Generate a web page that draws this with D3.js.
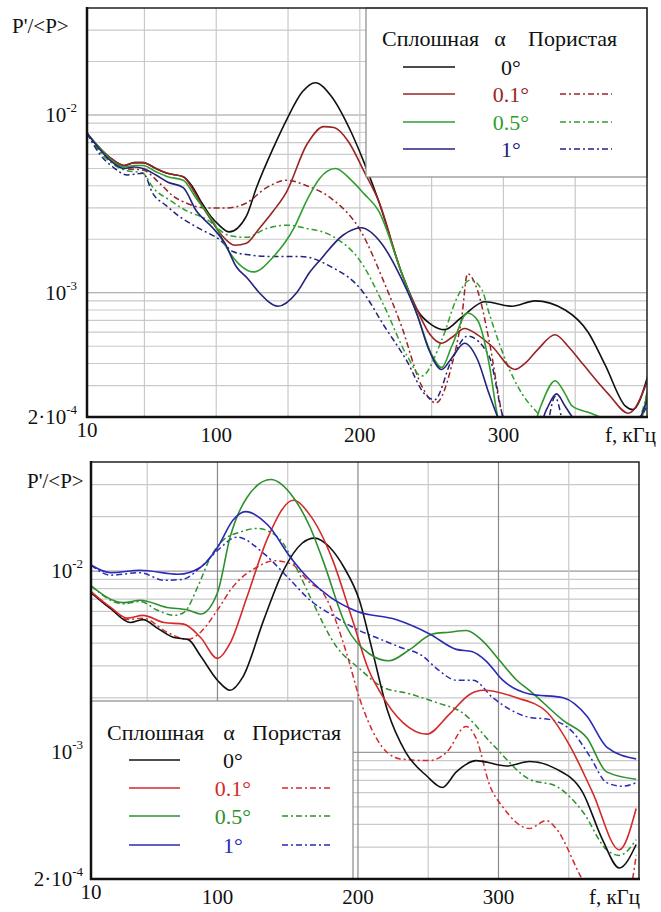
<!DOCTYPE html>
<html><head><meta charset="utf-8">
<script src="https://cdn.jsdelivr.net/npm/d3@7"></script>
<style>
body{margin:0;background:#fff;}
svg, svg text{font-family:"Liberation Serif","DejaVu Serif","Times New Roman",serif;}
</style>
</head><body>
<svg id="chart" width="661" height="912" font-family="Liberation Serif, DejaVu Serif, serif"></svg>
<script>
// ---------- shared axis data ----------
const xDomain = [10, 400];
const yDomain = [2e-4, 0.04];
const xTickValues = [10, 100, 200, 300];
const xGridValues = [50, 100, 150, 200, 250, 300, 350];
const yGridValues = [0.0003,0.0004,0.0005,0.0006,0.0007,0.0008,0.0009,0.001,0.002,0.003,0.004,0.005,0.006,0.007,0.008,0.009,0.01,0.02,0.03];
const yTickLabels = [{v:0.01, pre:"10", exp:"-2"}, {v:0.001, pre:"10", exp:"-3"}, {v:0.0002, pre:"2·10", exp:"-4"}];
const angleLabels = ["0°", "0.1°", "0.5°", "1°"];
const legendHeader = ["Сплошная", "α", "Пористая"];
const yAxisTitle = "P'/<P>";
const xAxisTitle = "f, кГц";

// ---------- top panel series (f, P'/<P>) ----------
const topSolid0 = [[10,0.0079],[19,0.0065],[28,0.0056],[36,0.0052],[43,0.0054],[49,0.0054],[58,0.0050],[66,0.0047],[77,0.0045],[83,0.0040],[89,0.0033],[96,0.0027],[102,0.0024],[109,0.0022],[121,0.0027],[128,0.0039],[140,0.0066],[149,0.0094],[160,0.0135],[169,0.0152],[180,0.0128],[194,0.0080],[203,0.0054],[213,0.0033],[229,0.0013],[240,0.0008],[250,0.00066],[259,0.00062],[271,0.00073],[287,0.00089],[306,0.00084],[322,0.0009],[343,0.0008],[359,0.0006],[371,0.00039],[385,0.00023],[390,0.00022],[401,0.00035]];
const topSolid01 = [[10,0.0079],[19,0.0065],[28,0.0056],[36,0.0052],[43,0.0054],[49,0.0054],[58,0.0050],[66,0.0047],[77,0.0045],[83,0.0039],[89,0.0032],[96,0.0026],[104,0.0021],[113,0.00185],[121,0.0019],[130,0.0023],[140,0.0029],[149,0.0037],[163,0.0068],[175,0.0086],[182,0.0085],[192,0.0071],[203,0.0048],[213,0.0033],[229,0.0013],[240,0.0008],[249,0.00058],[257,0.00052],[264,0.00056],[273,0.00063],[282,0.00058],[292,0.0005],[308,0.00037],[315,0.0004],[324,0.00048],[336,0.00058],[345,0.0005],[355,0.0004],[373,0.00027],[387,0.00021],[401,0.00033]];
const topSolid05 = [[10,0.0079],[19,0.0065],[28,0.0055],[36,0.0051],[43,0.0052],[49,0.0052],[58,0.0048],[66,0.0045],[77,0.0043],[86,0.0034],[98,0.0025],[109,0.0017],[118,0.0014],[126,0.00131],[140,0.0016],[154,0.0023],[163,0.0033],[172,0.0044],[183,0.0050],[194,0.0043],[203,0.0036],[213,0.0029],[229,0.0013],[240,0.00075],[250,0.00045],[257,0.00038],[264,0.0005],[275,0.00077],[282,0.0007],[290,0.0004],[296,0.0002],[305,0.00013],[318,0.00015],[326,0.00023],[336,0.00032],[343,0.00027],[348,0.00023],[361,0.00021],[373,0.00019],[385,0.00016],[395,0.00019],[401,0.00028]];
const topSolid1 = [[10,0.0079],[19,0.0064],[28,0.0054],[36,0.0050],[43,0.0051],[49,0.0050],[58,0.0046],[66,0.0042],[77,0.0039],[86,0.0029],[98,0.0023],[106,0.0019],[114,0.0014],[122,0.0012],[130,0.001],[143,0.00084],[156,0.001],[165,0.0013],[173,0.00155],[188,0.0021],[201,0.00232],[215,0.0019],[229,0.0012],[240,0.00075],[248,0.00048],[257,0.00037],[264,0.00043],[273,0.00052],[282,0.00042],[290,0.00027],[296,0.0002],[305,0.00014],[320,0.00014],[330,0.00022],[337,0.00027],[343,0.00023],[348,0.0002],[360,0.00016],[385,0.00015],[401,0.00026]];
const topPorous01 = [[10,0.0079],[19,0.0063],[28,0.0054],[36,0.0050],[49,0.0049],[61,0.0041],[70,0.0035],[79,0.0032],[93,0.0030],[107,0.0030],[121,0.0032],[135,0.0039],[149,0.0043],[163,0.0040],[180,0.0034],[201,0.0022],[217,0.00114],[229,0.00065],[243,0.0003],[253,0.00024],[264,0.00039],[271,0.00073],[275,0.00128],[282,0.00103],[290,0.00054],[299,0.00021],[310,0.00012],[380,0.00012],[395,0.00018],[401,0.0003]];
const topPorous05 = [[10,0.0079],[19,0.0062],[28,0.0053],[36,0.0049],[49,0.0047],[56,0.0039],[68,0.0033],[79,0.0029],[93,0.0026],[109,0.0021],[121,0.00205],[135,0.0023],[150,0.0024],[163,0.0023],[180,0.0021],[201,0.00148],[217,0.00084],[233,0.00044],[243,0.00034],[257,0.00054],[268,0.00095],[277,0.00118],[285,0.00104],[290,0.00077],[303,0.00039],[313,0.00027],[324,0.00021],[332,0.00018],[380,0.00016],[395,0.0002],[401,0.0003]];
const topPorous1 = [[10,0.0079],[19,0.006],[28,0.0051],[38,0.0046],[49,0.0047],[56,0.0036],[65,0.0031],[74,0.0027],[88,0.0023],[102,0.002],[112,0.0017],[121,0.00164],[140,0.0016],[159,0.0016],[180,0.0014],[201,0.00104],[217,0.00065],[233,0.00041],[245,0.00027],[252,0.00025],[264,0.00042],[275,0.00057],[290,0.00044],[299,0.00021],[310,0.00013],[328,0.00015],[336,0.00026],[344,0.00016],[380,0.00014],[401,0.00024]];

// ---------- bottom panel series ----------
const botSolid0 = [[10,0.0076],[24,0.0062],[38,0.0052],[47,0.0054],[58,0.0048],[69,0.0043],[79,0.0042],[88,0.0034],[100,0.0025],[109,0.0022],[118,0.0026],[133,0.0054],[147,0.0101],[160,0.0142],[169,0.0152],[180,0.0135],[190,0.0105],[201,0.0069],[210,0.0037],[221,0.0017],[234,0.0010],[249,0.00074],[260,0.00064],[270,0.00078],[284,0.0009],[306,0.00084],[322,0.00089],[341,0.00081],[360,0.0006],[374,0.00033],[386,0.00023],[398,0.00031]];
const botSolid01 = [[10,0.0077],[24,0.0063],[36,0.0055],[47,0.0057],[62,0.0052],[76,0.0051],[88,0.0043],[100,0.0033],[109,0.0040],[121,0.0072],[136,0.0154],[154,0.0246],[166,0.0203],[182,0.0115],[196,0.0054],[208,0.0028],[215,0.0022],[232,0.00146],[249,0.00126],[265,0.00162],[280,0.0021],[289,0.0022],[313,0.002],[334,0.00168],[351,0.00108],[367,0.0006],[386,0.00029],[398,0.00049]];
const botSolid05 = [[10,0.0083],[33,0.0067],[45,0.0069],[64,0.0063],[79,0.0061],[88,0.0058],[100,0.0076],[109,0.0154],[121,0.0255],[138,0.032],[154,0.0255],[166,0.0174],[175,0.0115],[192,0.0049],[208,0.0035],[222,0.0032],[237,0.0037],[253,0.0045],[265,0.0046],[277,0.0047],[289,0.0041],[301,0.0032],[313,0.0025],[322,0.0022],[346,0.0015],[363,0.0012],[377,0.00078],[398,0.00071]];
const botSolid1 = [[10,0.0108],[24,0.0098],[45,0.0101],[72,0.0096],[88,0.0105],[100,0.0135],[111,0.0191],[120,0.0213],[136,0.0179],[152,0.0119],[166,0.0089],[180,0.0072],[199,0.006],[227,0.0054],[251,0.0045],[270,0.0037],[281,0.0036],[291,0.0032],[303,0.0025],[322,0.0021],[346,0.002],[363,0.00158],[377,0.00107],[398,0.00092]];
const botPorous01 = [[10,0.0077],[24,0.0062],[36,0.0054],[47,0.0055],[64,0.0046],[79,0.0042],[88,0.0046],[100,0.0061],[111,0.0082],[128,0.0105],[140,0.0114],[152,0.0110],[166,0.0086],[175,0.0076],[192,0.0035],[201,0.0020],[213,0.0012],[230,0.00092],[251,0.0009],[263,0.001],[277,0.00139],[284,0.0012],[294,0.00065],[303,0.0005],[322,0.00038],[334,0.00042],[341,0.00038],[358,0.00021],[370,0.00014],[390,0.00014],[398,0.00027]];
const botPorous05 = [[10,0.0083],[33,0.0066],[45,0.0068],[57,0.0061],[69,0.0057],[76,0.0059],[86,0.0082],[95,0.0119],[104,0.0148],[116,0.0164],[128,0.0172],[143,0.0154],[157,0.0101],[166,0.0072],[185,0.0038],[201,0.0029],[217,0.0023],[237,0.0021],[256,0.00188],[274,0.00166],[296,0.0011],[322,0.00071],[341,0.00065],[360,0.00047],[377,0.00029],[386,0.00027],[398,0.00033]];
const botPorous1 = [[10,0.0108],[24,0.0095],[45,0.0098],[62,0.0089],[75,0.009],[88,0.0105],[100,0.013],[114,0.0154],[133,0.0125],[152,0.0089],[166,0.0069],[182,0.0057],[201,0.0047],[213,0.0043],[230,0.0038],[246,0.0034],[256,0.0029],[270,0.0025],[282,0.0025],[296,0.002],[322,0.00156],[336,0.00152],[353,0.00129],[365,0.00095],[377,0.00068],[388,0.00065],[398,0.00068]];

const topColors = ["#111111", "#9a2424", "#2f9e2f", "#23237c"];
const botColors = ["#111111", "#d42a2a", "#2e8f2e", "#2a2ab8"];

const FONT = "Liberation Serif, DejaVu Serif, serif";
const svg = d3.select("#chart");
const DASH = "6,3,2,3";

function panel(cfg) {
  const x = d3.scaleLinear().domain(xDomain).range([cfg.left, cfg.right]);
  const y = d3.scaleLog().domain(yDomain).range([cfg.bottom, cfg.top]);
  const g = svg.append("g").attr("font-family", FONT);
  const clipId = "clip" + cfg.id;
  svg.append("defs").append("clipPath").attr("id", clipId)
    .append("rect").attr("x", cfg.left).attr("y", cfg.top)
    .attr("width", cfg.right - cfg.left).attr("height", cfg.bottom - cfg.top);

  // grid
  g.append("g").selectAll("line").data(yGridValues).join("line")
    .attr("x1", cfg.left).attr("x2", cfg.right)
    .attr("y1", d => y(d)).attr("y2", d => y(d))
    .attr("stroke", d => (d === 0.01 || d === 0.001) ? "#9a9a9a" : "#c9c9c9").attr("stroke-width", 1.2);
  g.append("g").selectAll("line").data(xGridValues).join("line")
    .attr("y1", cfg.top).attr("y2", cfg.bottom)
    .attr("x1", d => x(d)).attr("x2", d => x(d))
    .attr("stroke", d => (cfg.darkMajor && d % 100 === 0) ? "#8a8a8a" : "#c9c9c9").attr("stroke-width", 1.2);

  // curves
  const line = d3.line().x(d => x(d[0])).y(d => y(d[1])).curve(d3.curveMonotoneX);
  const cg = g.append("g").attr("clip-path", `url(#${clipId})`);
  cfg.porous.forEach((s, i) => {
    cg.append("path").datum(s).attr("d", line).attr("fill", "none")
      .attr("stroke", cfg.colors[i + 1]).attr("stroke-width", 1.5).attr("stroke-dasharray", DASH);
  });
  cfg.solid.forEach((s, i) => {
    cg.append("path").datum(s).attr("d", line).attr("fill", "none")
      .attr("stroke", cfg.colors[i]).attr("stroke-width", 1.6);
  });

  // legend
  const L = cfg.legend;
  g.append("rect").attr("x", L.x0).attr("y", L.y0).attr("width", L.x1 - L.x0).attr("height", L.y1 - L.y0)
    .attr("fill", "#fff").attr("stroke", "#8a8a8a").attr("stroke-width", 1.2);
  const txt = (xx, yy, s, anchor, color) => g.append("text").attr("x", xx).attr("y", yy)
    .attr("font-family", FONT).attr("font-size", 22).attr("text-anchor", anchor || "start")
    .attr("fill", color || "#111").text(s);
  txt(L.hx[0], L.hy, legendHeader[0]);
  txt(L.hx[1], L.hy, legendHeader[1], "middle");
  txt(L.hx[2], L.hy, legendHeader[2]);
  angleLabels.forEach((lab, i) => {
    const yy = L.rowY[i];
    g.append("line").attr("x1", L.sx[0]).attr("x2", L.sx[1]).attr("y1", yy).attr("y2", yy)
      .attr("stroke", cfg.colors[i]).attr("stroke-width", 1.6);
    txt(L.lx, yy + 8, lab, "middle", cfg.colors[i]);
    if (i > 0) {
      g.append("line").attr("x1", L.px[0]).attr("x2", L.px[1]).attr("y1", yy).attr("y2", yy)
        .attr("stroke", cfg.colors[i]).attr("stroke-width", 1.5).attr("stroke-dasharray", DASH);
    }
  });

  // frame
  g.append("rect").attr("x", cfg.left).attr("y", cfg.top).attr("width", cfg.right - cfg.left)
    .attr("height", cfg.bottom - cfg.top).attr("fill", "none").attr("stroke", "#222").attr("stroke-width", 1.5);
  g.append("line").attr("x1", cfg.left).attr("x2", cfg.left).attr("y1", cfg.top - 1).attr("y2", cfg.bottom + 1)
    .attr("stroke", "#111").attr("stroke-width", 2.5);
  g.append("line").attr("x1", cfg.left - 1).attr("x2", cfg.right + 1).attr("y1", cfg.bottom).attr("y2", cfg.bottom)
    .attr("stroke", "#111").attr("stroke-width", 2.5);

  // y tick labels
  yTickLabels.forEach(t => {
    const tx = g.append("text").attr("x", cfg.left - cfg.yLabelGap).attr("y", y(t.v) + 7)
      .attr("text-anchor", "end").attr("font-family", FONT).attr("font-size", 21).attr("fill", "#111");
    tx.append("tspan").text(t.pre);
    tx.append("tspan").attr("font-size", 13).attr("dy", -10).text(t.exp);
  });
  g.append("text").attr("x", cfg.titleX).attr("y", cfg.titleY).attr("font-family", FONT)
    .attr("font-size", 21).attr("fill", "#111").text(yAxisTitle);

  // x tick labels
  xTickValues.forEach(v => {
    g.append("text").attr("x", x(v)).attr("y", cfg.bottom + (v === 10 ? 20 : 25))
      .attr("text-anchor", "middle").attr("font-family", FONT).attr("font-size", 21).attr("fill", "#111").text(v);
  });
  g.append("text").attr("x", cfg.xTitleEnd).attr("y", cfg.bottom + 25).attr("text-anchor", "end")
    .attr("font-family", FONT).attr("font-size", 21).attr("fill", "#111").text(xAxisTitle);
}

panel({
  id: "top", left: 87, right: 647, top: 8, bottom: 417, darkMajor: false,
  colors: topColors,
  solid: [topSolid0, topSolid01, topSolid05, topSolid1],
  porous: [topPorous01, topPorous05, topPorous1],
  legend: {x0: 366, x1: 647, y0: 8, y1: 177, hx: [382, 500, 528], hy: 46,
           rowY: [67, 94, 122, 149], sx: [403, 455], px: [560, 612], lx: 511},
  yLabelGap: 10, titleX: 12, titleY: 33, xTitleEnd: 656
});

panel({
  id: "bot", left: 91, right: 639, top: 462, bottom: 879, darkMajor: true,
  colors: botColors,
  solid: [botSolid0, botSolid01, botSolid05, botSolid1],
  porous: [botPorous01, botPorous05, botPorous1],
  legend: {x0: 91, x1: 353, y0: 701, y1: 879, hx: [107, 229, 252], hy: 740,
           rowY: [760, 788, 816, 845], sx: [129, 180], px: [282, 332], lx: 233},
  yLabelGap: 8, titleX: 27, titleY: 488, xTitleEnd: 640
});
</script>
</body></html>
